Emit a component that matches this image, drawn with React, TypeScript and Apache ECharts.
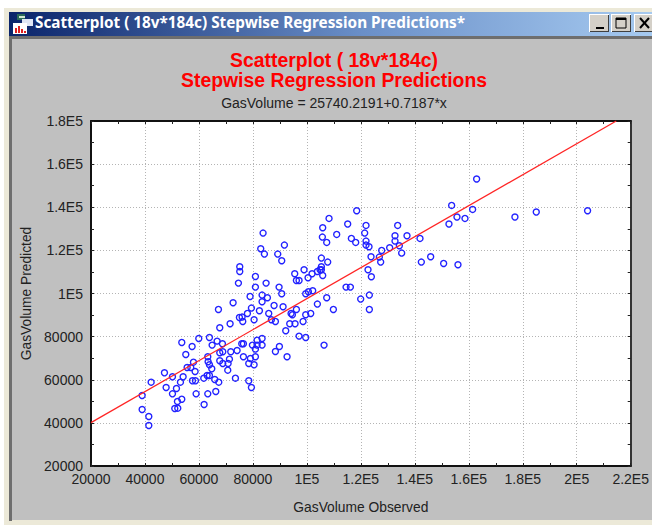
import React, { useEffect, useRef } from "react";
import * as echarts from "echarts";

const windowTitle = "Scatterplot ( 18v*184c) Stepwise Regression Predictions*";
const chartTitle = "Scatterplot ( 18v*184c)";
const chartSubtitle = "Stepwise Regression Predictions";
const equationText = "GasVolume = 25740.2191+0.7187*x";
const xAxisName = "GasVolume Observed";
const yAxisName = "GasVolume Predicted";
const xTickLabels = ["20000", "40000", "60000", "80000", "1E5", "1.2E5", "1.4E5", "1.6E5", "1.8E5", "2E5", "2.2E5"];
const yTickLabels = ["20000", "40000", "60000", "80000", "1E5", "1.2E5", "1.4E5", "1.6E5", "1.8E5"];

const regressionLine = [[20000, 40114], [214640, 180000]];

const observedPredicted: number[][] = [
  [38950,52700],[38950,46200],[41420,42950],[41420,38780],[42285,58890],[47223,63220],[47840,56410],[50186,61360],[50186,53470],[51668,55950],
  [52038,49915],[51050,46665],[52161,46820],[53643,50990],[53149,58890],[54137,61360],[53643,77300],[55126,71730],[57470,75440],[59940,79150],
  [55620,65695],[56976,65695],[57965,68170],[58580,63836],[57594,59500],[58705,59500],[58950,53470],[61915,48520],[63275,53470],[66240,54555],
  [61790,60740],[63026,61980],[63890,61980],[65865,60125],[67347,58890],[64755,65075],[63890,66930],[63395,68325],[63275,70645],[64880,76060],
  [63890,79615],[66730,77915],[68705,76675],[67717,72500],[68830,72965],[67717,68790],[68830,67550],[70680,64455],[70805,67550],[71300,69560],
  [71790,72965],[74137,73585],[73520,60740],[78460,59500],[79445,56410],[76480,70645],[79075,69870],[78460,67550],[80435,66930],[80925,70645],
  [80925,74200],[79815,76060],[81545,78380],[83400,79150],[81545,76060],[83400,76060],[76480,76675],[75865,76675],[88335,73120],[89815,75440],
  [92655,70645],[97100,80235],[99570,79615],[106360,76060],[92165,82710],[93645,85960],[95620,85960],[98585,87040],[99570,90135],[101420,90755],
  [103890,95087],[107350,98025],[109820,92610],[96115,92610],[94135,90755],[94630,90135],[91175,93850],[87840,94470],[85865,90755],[86855,87815],
  [88335,87040],[82410,91990],[80435,87815],[79445,93230],[77965,90755],[75990,89050],[75000,88900],[76235,87040],[71545,85960],[67717,84100],
  [67225,92610],[72655,95705],[78950,98645],[83400,99265],[83400,96170],[85370,98025],[90680,99880],[99570,99880],[100560,100810],[102160,101275],
  [119940,97410],[123150,99265],[123150,92610],
  [83765,128020],[82900,120750],[84260,118275],[91670,122450],[89200,118275],[90680,115180],[75125,112395],[75125,110230],[80925,107910],[74630,104815],
  [80925,102960],[84880,104815],[89695,102960],[95495,109145],[96115,106050],[97100,106050],[98950,111000],[100435,107290],[101915,109145],[103890,110230],
  [104880,111000],[105370,112395],[105370,116420],[107720,114560],[105865,108375],[105370,111000],[114510,102960],[116115,102960],[118460,138385],[108210,134825],
  [105865,130495],[105740,126165],[107350,123690],[111050,127400],[115125,132200],[121915,131580],[121420,128020],[116485,125545],[118090,123690],[121915,124305],
  [121915,122450],[123025,121675],[123770,117035],[122655,111000],[123890,107750],
  [162905,153080],[153645,140860],[133645,131580],[132655,126785],[137100,126785],[141915,125545],[132655,124305],[134260,122140],[130680,121210],[127720,119975],
  [126855,116880],[127350,114560],[135125,118740],[142410,114560],[145870,117035],[150680,113940],[155990,113320],[152655,132200],[155620,135445],[158585,134825],
  [161420,139000],[177100,135445],[185000,137765],[204020,138385],
];

const FONT = "'Liberation Sans', Arial, sans-serif";
const W = 652;
const H = 525;

function rect(x: number, y: number, width: number, height: number, fill: any, z = 0) {
  return { type: "rect", silent: true, z, shape: { x, y, width, height }, style: { fill } };
}

function button(x: number) {
  return [
    rect(x, 14, 20, 18, "#ffffff", 1),
    rect(x + 1, 15, 19, 17, "#404040", 1),
    rect(x + 1, 15, 18, 16, "#d4d0c8", 1),
  ];
}

export default function App() {
  const ref = useRef<HTMLDivElement>(null);

  useEffect(() => {
    document.body.style.margin = "0";
    document.body.style.background = "#ffffff";
    const chart = echarts.init(ref.current!, undefined, { renderer: "svg" });

    const xFmt = (v: number) => xTickLabels[Math.round((v - 20000) / 20000)] ?? "";
    const yFmt = (v: number) => yTickLabels[Math.round((v - 20000) / 20000)] ?? "";
    const axisLine = { show: true, onZero: false, lineStyle: { color: "#111111", width: 2 } };
    const grid = { show: true, lineStyle: { color: "#b4b4b4", type: [1, 2] as any, width: 1 } };
    const tick = { show: true, inside: true, length: 3, lineStyle: { color: "#222222", width: 1 } };
    const minor = { show: true, splitNumber: 2, length: 3, lineStyle: { color: "#222222", width: 1 } };
    const labelBase = { color: "#222222", fontFamily: FONT, fontSize: 14 };
    const nameBase = { color: "#222222", fontFamily: FONT, fontSize: 13.8 };

    chart.setOption({
      animation: false,
      backgroundColor: "#ffffff",
      grid: { left: 91, top: 121, width: 540, height: 345, show: true, backgroundColor: "#ffffff", borderWidth: 0 },
      title: [
        { text: chartTitle, left: 329, top: 45, textAlign: "center", textStyle: { color: "#ff0000", fontFamily: FONT, fontSize: 19.4, fontWeight: "bold" } },
        { text: chartSubtitle, left: 329, top: 65, textAlign: "center", textStyle: { color: "#ff0000", fontFamily: FONT, fontSize: 19.4, fontWeight: "bold" } },
        { text: equationText, left: 329, top: 91, textAlign: "center", textStyle: { color: "#222222", fontFamily: FONT, fontSize: 14, fontWeight: "normal" } },
      ],
      xAxis: [
        {
          type: "value", min: 20000, max: 220000, interval: 20000, position: "bottom",
          axisLine, axisTick: tick, minorTick: minor, splitLine: grid,
          axisLabel: { ...labelBase, margin: 6, formatter: xFmt, showMinLabel: true, showMaxLabel: true, hideOverlap: false },
          name: xAxisName, nameLocation: "middle", nameGap: 34, nameTextStyle: nameBase,
        },
        {
          type: "value", min: 20000, max: 220000, interval: 20000, position: "top",
          axisLine, axisTick: tick, minorTick: minor, splitLine: { show: false }, axisLabel: { show: false },
        },
      ],
      yAxis: [
        {
          type: "value", min: 20000, max: 180000, interval: 20000, position: "left",
          axisLine, axisTick: tick, minorTick: minor, splitLine: grid,
          axisLabel: { ...labelBase, margin: 8, formatter: yFmt, showMinLabel: true, showMaxLabel: true, hideOverlap: false },
          name: yAxisName, nameLocation: "middle", nameGap: 54, nameTextStyle: nameBase,
        },
        {
          type: "value", min: 20000, max: 180000, interval: 20000, position: "right",
          axisLine: { ...axisLine, lineStyle: { color: "#333333", width: 2 } }, axisTick: tick, minorTick: minor,
          splitLine: { show: false }, axisLabel: { show: false },
        },
      ],
      series: [
        {
          type: "scatter", data: observedPredicted, symbol: "circle", symbolSize: 6, silent: true, z: 3,
          itemStyle: { color: "transparent", borderColor: "#2222ff", borderWidth: 1.4, opacity: 1 },
        },
        {
          type: "line", data: regressionLine, symbol: "none", silent: true, z: 4,
          lineStyle: { color: "#ff2525", width: 1.3 },
        },
      ],
      graphic: {
        elements: [
          rect(0, 0, W, H, "#ffffff", -20),
          rect(4, 8, W - 4, H - 8, "#ece9d8", -19),
          rect(9, 12, W - 9, 24, {
            type: "linear", x: 0, y: 0, x2: 1, y2: 0,
            colorStops: [
              { offset: 0, color: "#0a246a" },
              { offset: 0.55, color: "#6a8fc8" },
              { offset: 1, color: "#a6caf0" },
            ],
          }, -18),
          rect(9, 36, W - 9, 3, "#6e6e6e", -17),
          rect(9, 36, 3, 485, "#6e6e6e", -17),
          rect(12, 39, W - 12, 481, "#c0c0c0", -16),
          // window icon
          rect(17, 14, 8, 6, "#2a6a5a", 1),
          rect(19, 16, 6, 2, "#d0e8d0", 1),
          rect(22, 19, 11, 7, "#dfe6f5", 1),
          rect(13, 23, 14, 11, "#ffffff", 2),
          rect(15, 28, 2, 5, "#e02020", 3),
          rect(18, 26, 2, 7, "#e02020", 3),
          rect(21, 29, 2, 4, "#e02020", 3),
          rect(24, 31, 2, 2, "#e02020", 3),
          {
            type: "text", silent: true, z: 3, x: 35, y: 14,
            style: { text: windowTitle, fill: "#ffffff", font: `bold 15.3px 'Noto Sans', ${FONT}` },
          },
          ...button(589),
          ...button(611),
          ...button(634),
          rect(596, 27, 8, 2, "#000000", 2),
          { type: "rect", silent: true, z: 2, shape: { x: 616, y: 18, width: 10, height: 10 }, style: { fill: "none", stroke: "#000000", lineWidth: 1 } },
          rect(616, 18, 10, 2, "#000000", 2),
          { type: "line", silent: true, z: 2, shape: { x1: 640, y1: 18, x2: 649, y2: 28 }, style: { stroke: "#000000", lineWidth: 2 } },
          { type: "line", silent: true, z: 2, shape: { x1: 649, y1: 18, x2: 640, y2: 28 }, style: { stroke: "#000000", lineWidth: 2 } },
        ],
      },
    });
    return () => chart.dispose();
  }, []);

  return <div ref={ref} style={{ width: W, height: H }} />;
}
